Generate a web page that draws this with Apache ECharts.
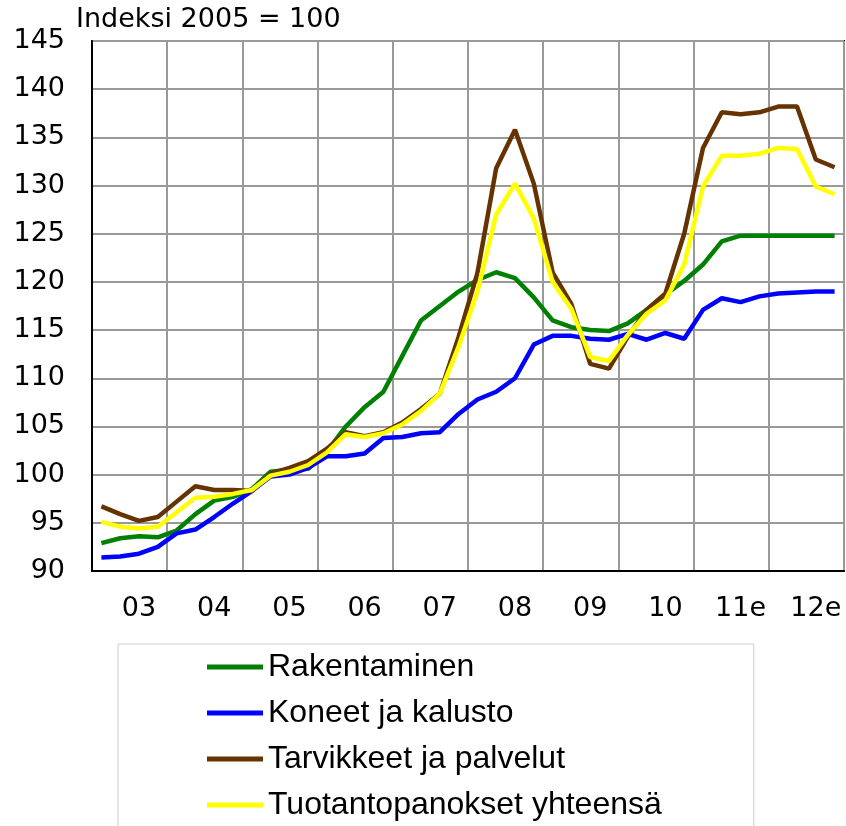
<!DOCTYPE html>
<html>
<head>
<meta charset="utf-8">
<script src="https://cdn.jsdelivr.net/npm/echarts@6/dist/echarts.min.js"></script>
<style>
html,body{margin:0;padding:0;background:#fff;}
#chart{width:846px;height:826px;}
</style>
</head>
<body>
<div id="chart"></div>
<script>
const years = ['03','04','05','06','07','08','09','10','11e','12e'];
const quarters = ['Q1','Q2','Q3','Q4'];
const seriesNames = ['Rakentaminen','Koneet ja kalusto','Tarvikkeet ja palvelut','Tuotantopanokset yhteensä'];
const rakentaminen = [92.9,93.4,93.6,93.5, 94.2,95.9,97.3,97.7, 98.5,100.3,100.5,100.6, 102.4,105.0,107.0,108.6, 112.3,116.0,117.5,119.0, 120.2,121.0,120.4,118.4, 116.0,115.3,115.0,114.9, 115.7,117.1,118.7,120.1, 121.8,124.2,124.8,124.8, 124.8,124.8,124.8,124.8];
const koneet = [91.4,91.5,91.8,92.5, 93.9,94.3,95.6,97.0, 98.3,99.8,100.0,100.7, 101.9,101.9,102.2,103.8, 103.9,104.3,104.4,106.3, 107.8,108.6,110.0,113.5, 114.4,114.4,114.1,114.0, 114.6,114.0,114.7,114.1, 117.1,118.3,117.9,118.5, 118.8,118.9,119.0,119.0];
const tarvikkeet = [96.7,95.9,95.2,95.6, 97.2,98.8,98.4,98.4, 98.3,100.1,100.7,101.4, 102.7,104.4,104.0,104.4, 105.4,106.8,108.4,114.3, 120.9,131.8,135.8,130.2, 121.0,117.7,111.5,111.0, 114.3,117.1,118.8,125.0, 133.9,137.6,137.4,137.6, 138.2,138.2,132.7,131.9];
const yhteensa = [95.1,94.6,94.4,94.6, 96.1,97.6,97.7,98.0, 98.4,99.9,100.3,101.0, 102.3,104.2,103.9,104.3, 105.2,106.6,108.4,113.3, 119.0,127.0,130.2,126.6, 120.0,117.2,112.2,111.8, 114.5,116.7,118.1,121.8, 129.9,133.1,133.1,133.3, 133.9,133.8,129.9,129.1];
const colors = ['#008000','#0000ff','#663300','#ffff00'];
const yTicks = {min:90, max:145, interval:5};

const categories = [];
years.forEach(y => quarters.forEach(q => categories.push(y + q)));
const values = [rakentaminen, koneet, tarvikkeet, yhteensa];

const chart = echarts.init(document.getElementById('chart'), null, {renderer:'canvas'});
chart.setOption({
  animation: false,
  backgroundColor: '#fff',
  title: {
    text: 'Indeksi 2005 = 100',
    left: 76, top: 6, padding: 0,
    textStyle: {fontFamily: 'DejaVu Sans', fontSize: 27, fontWeight: 'normal', color: '#000'}
  },
  grid: {
    left: 92, top: 41, right: 2, bottom: 255,
    show: true, borderColor: '#000', borderWidth: 2,
    containLabel: false, outerBoundsMode: 'none'
  },
  legend: {
    orient: 'vertical',
    left: 118, top: 644, height: 215,
    padding: [7, 92, 20, 89],
    borderColor: '#cccccc', borderWidth: 1,
    backgroundColor: '#fff',
    icon: 'rect',
    itemWidth: 56, itemHeight: 5, itemGap: 14, itemTextGap: 3,
    textStyle: {fontFamily: 'Liberation Sans', fontSize: 32, lineHeight: 32, color: '#000'},
    data: seriesNames
  },
  xAxis: {
    type: 'category',
    data: categories,
    boundaryGap: true,
    axisLine: {show: true, lineStyle: {color: '#000', width: 2}},
    axisTick: {show: false},
    axisLabel: {
      interval: (idx) => idx % 4 === 2,
      formatter: (v, idx) => years[Math.floor(idx / 4)],
      fontFamily: 'DejaVu Sans', fontSize: 27, color: '#000', margin: 24
    },
    splitLine: {show: true, interval: (idx) => idx % 4 === 0, lineStyle: {color: '#999', width: 2}}
  },
  yAxis: {
    type: 'value',
    min: yTicks.min, max: yTicks.max, interval: yTicks.interval,
    axisLine: {show: true, lineStyle: {color: '#000', width: 2}},
    axisTick: {show: false},
    axisLabel: {fontFamily: 'DejaVu Sans', fontSize: 27, color: '#000', margin: 27},
    splitLine: {show: true, lineStyle: {color: '#999', width: 2}}
  },
  series: seriesNames.map((n, i) => ({
    name: n,
    type: 'line',
    data: values[i],
    symbol: 'none',
    color: colors[i],
    lineStyle: {color: colors[i], width: 4.5},
    z: 2 + i
  }))
});
</script>
</body>
</html>
